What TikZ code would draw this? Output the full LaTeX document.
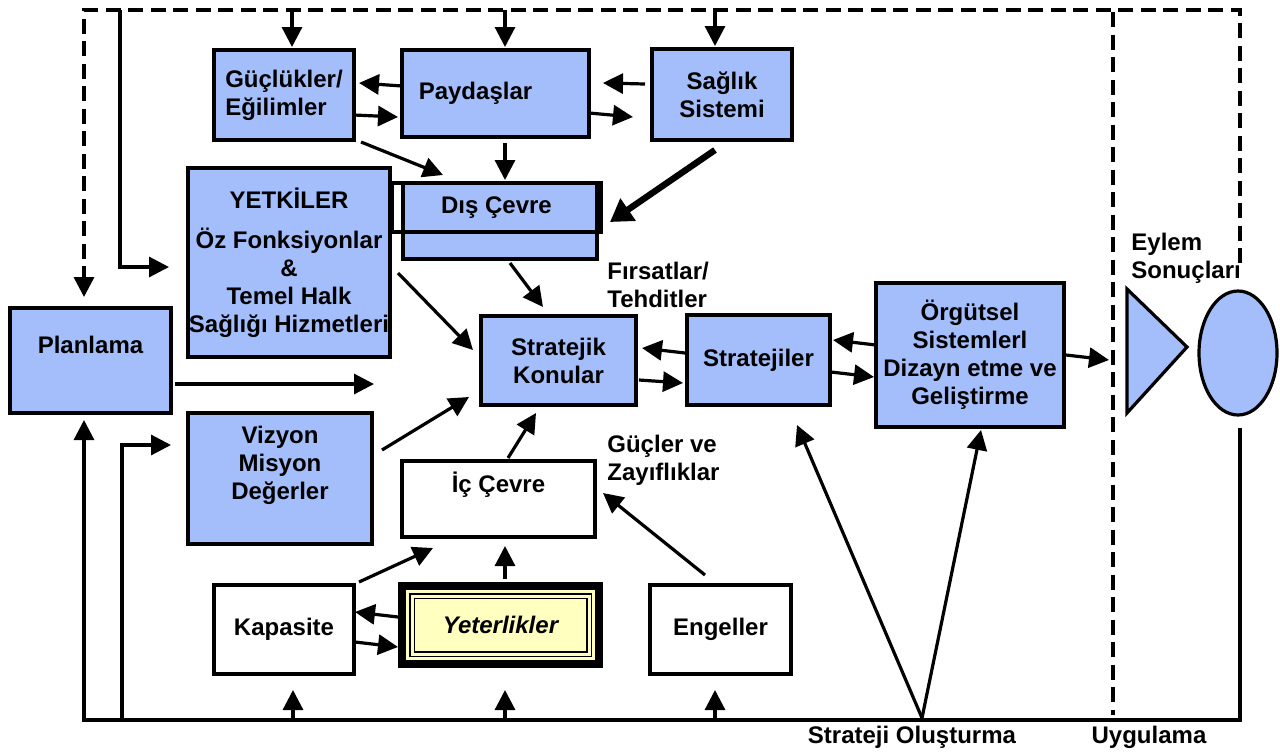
\documentclass[tikz,border=0pt]{standalone}
\usepackage{fontspec}
\setmainfont{Liberation Sans}
\usepackage{xcolor}
\usetikzlibrary{arrows.meta, positioning}
\definecolor{mavi}{RGB}{163,190,250}
\definecolor{sari}{RGB}{255,255,192}

\begin{document}
\begin{tikzpicture}[x=0.5pt, y=-0.5pt,
		font=\bfseries\fontsize{12}{14}\selectfont,
		kutu/.style={draw, line width=1.6pt, fill=mavi, align=center, inner sep=0pt, outer sep=0pt},
		bkutu/.style={kutu, fill=white},
		ok/.style={line width=1.6pt, -{Triangle[length=10pt, width=10pt]}},
		kesik/.style={line width=1.7pt, dash pattern=on 7.5pt off 3.75pt},
		yazi/.style={inner sep=0pt, align=left, anchor=west}]
				\useasboundingbox (0,0) rectangle (1280,751);
				
				\coordinate (sagUst) at (1240,263);
				\coordinate (solUst) at (84,10);
				\coordinate (ortaUst) at (1113,12);
				\coordinate (ortaAlt) at (1113,715);
				\coordinate (ic1Ust) at (120,10);
				\coordinate (altSag) at (1240,428);
				\coordinate (altSol) at (84,720);
				\coordinate (ic2Alt) at (122,720);
				\coordinate (planOk) at (374,384);
				\coordinate (stratO) at (922,718);
				\coordinate (ucgen) at (1109,360);
				
				% kutular
				\node[kutu, minimum width=70pt, minimum height=45pt, align=left] (gug) at (284,95) {Güçlükler/\\Eğilimler};
				\node[kutu, minimum width=93.5pt, minimum height=43.5pt] (pay) at (495.5,93.5) {Paydaşlar\hspace*{20pt}};
				\node[kutu, minimum width=70pt, minimum height=45.5pt] (sag) at (722,94.5) {Sağlık\\Sistemi};
				\node[kutu, minimum width=101pt, minimum height=94.5pt] (yetk) at (289,262.5) {YETKİLER\\[6pt]Öz Fonksiyonlar\\\&\\Temel Halk\\Sağlığı Hizmetleri};
				\node[kutu, minimum width=97pt, minimum height=38pt] (dis) at (500,221) {};
				\node[draw, line width=1.6pt, inner sep=0pt, outer sep=0pt, minimum width=104.5pt, minimum height=24.5pt] (disF) at (496.5,207.5) {Dış Çevre};
				\node[kutu, minimum width=80.5pt, minimum height=52.5pt, label={[yshift=7.75pt]center:Planlama}] (plan) at (90.5,360.5) {};
				\node[kutu, minimum width=92pt, minimum height=65.5pt, label={[yshift=6.75pt, align=center]center:Vizyon\\Misyon\\Değerler}] (viz) at (280,478.5) {};
				\node[kutu, minimum width=77.5pt, minimum height=44.5pt] (sk) at (558.5,360.5) {Stratejik\\Konular};
				\node[kutu, minimum width=71.5pt, minimum height=45pt] (str) at (758.5,360) {Stratejiler};
				\node[kutu, minimum width=94pt, minimum height=72pt] (org) at (970,355) {Örgütsel\\Sistemlerl\\Dizayn etme ve\\Geliştirme};
				\node[bkutu, minimum width=96.5pt, minimum height=38pt, label={[yshift=7pt]center:İç Çevre}] (ic) at (498.5,499) {};
				\node[bkutu, minimum width=70pt, minimum height=44.5pt] (kap) at (284,629.5) {Kapasite};
				\node[bkutu, minimum width=70.5pt, minimum height=44.5pt] (eng) at (720.5,629.5) {Engeller};
				\node[draw, line width=4pt, fill=sari, inner sep=0pt, outer sep=0pt, minimum width=98.5pt, minimum height=39pt, font=\bfseries\itshape\fontsize{12}{14}\selectfont] (yetr) at (500.5,625) {Yeterlikler};
				\draw[line width=0.6pt, double=sari, double distance=1.5pt] ([shift={(10,10)}]yetr.north west) rectangle ([shift={(-10,-10)}]yetr.south east);
				
				\filldraw[fill=mavi, line width=1.6pt] (1127,289) -- (1187,347) -- (1127,413) -- cycle;
				\filldraw[fill=mavi, line width=1.6pt] (1238,353) ellipse [x radius=19.5pt, y radius=31pt];
				
				% yazilar
				\node[yazi] (firsat) at (607,285) {Fırsatlar/\\Tehditler};
				\node[yazi] (gucler) at (607,460) {Güçler ve\\Zayıflıklar};
				\node[yazi] (eylem) at (1131,258) {Eylem\\Sonuçları};
				\node (olus) at (912,737) {Strateji Oluşturma};
				\node (uyg) at (1149,737) {Uygulama};
				
				% kesik cizgiler
				\draw[kesik, -{Triangle[length=10pt, width=10pt]}] (sagUst) |- (solUst) -- ([shift={(-6.5,-11)}]plan.north);
				\draw[kesik] (ortaUst) -- (ortaAlt);
				
				% cerceve
				\draw[ok] (ic1Ust) |- ([shift={(-19,4.5)}]yetk.west);
				\draw[ok] (altSag) |- (altSol) -- ([shift={(-6.5,7)}]plan.south);
				\draw[ok] (ic2Alt) |- ([shift={(-17,-33.5)}]viz.west);
				\draw[ok] ([shift={(8,-40)}]gug.north) -- ([shift={(8,-3)}]gug.north);
				\draw[ok] ([shift={(9.5,-40)}]pay.north) -- ([shift={(9.5,-3)}]pay.north);
				\draw[ok] ([shift={(-7,-39)}]sag.north) -- ([shift={(-7,-3)}]sag.north);
				\draw[ok] ([shift={(9,46)}]kap.south) -- ([shift={(9,16)}]kap.south);
				\draw[ok] ([shift={(4.5,56)}]yetr.south) -- ([shift={(4.5,26)}]yetr.south);
				\draw[ok] ([shift={(-5.5,46)}]eng.south) -- ([shift={(-5.5,16)}]eng.south);
				
				% baglantilar
				\draw[ok] ([yshift=3.75pt]pay.west) -- ([shift={(5,-12)}]gug.east);
				\draw[ok] ([yshift=-10pt]gug.east) -- ([shift={(-4,23.5)}]pay.west);
				\draw[ok] ([shift={(-7,-10.5)}]sag.west) -- ([shift={(14,-10.5)}]pay.east);
				\draw[ok] ([yshift=-9.75pt]pay.east) -- ([shift={(-19,22.5)}]sag.west);
				\draw[ok] ([shift={(7,2)}]gug.south east) -- ([shift={(51,-8)}]disF.north west);
				\draw[ok] ([shift={(9.5,6)}]pay.south) -- ([shift={(8.5,-3)}]disF.north);
				\draw[line width=3.2pt, -{Triangle[length=11pt, width=13pt]}] ([shift={(-7,10)}]sag.south) -- ([shift={(9,14.5)}]disF.east);
				\draw[ok] ([shift={(10,4)}]dis.south) -- ([shift={(-15.5,-9)}]sk.north);
				\draw[ok] ([shift={(8,10.5)}]yetk.east) -- ([shift={(-8,-10.5)}]sk.west);
				\draw[ok] ([shift={(4,23.5)}]plan.east) -- (planOk);
				\draw[ok] ([shift={(10,-28.5)}]viz.east) -- ([shift={(-12,-8)}]sk.south west);
				\draw[ok] ([shift={(9.5,-3)}]ic.north) -- ([shift={(-22.5,8)}]sk.south);
				\draw[ok] ([shift={(-2,-7)}]str.west) -- ([shift={(6,-12.5)}]sk.east);
				\draw[ok] ([shift={(3,19.5)}]sk.east) -- ([shift={(-4,23)}]str.west);
				\draw[ok] ([shift={(0,-10)}]org.west) -- ([shift={(3,-20)}]str.east);
				\draw[ok] ([shift={(1,12)}]str.east) -- ([shift={(-2,22)}]org.west);
				\draw[ok] ([xshift=1pt]org.east) -- (ucgen);
				\draw[ok] ([shift={(5,-3)}]kap.north east) -- ([shift={(31,11)}]ic.south west);
				\draw[ok] ([shift={(4.5,-7)}]yetr.north) -- ([shift={(6.5,9)}]ic.south);
				\draw[ok] ([shift={(-4,-8)}]yetr.west) -- ([shift={(1,-17.5)}]kap.east);
				\draw[ok] ([shift={(1,12.5)}]kap.east) -- ([shift={(-4,22)}]yetr.west);
				\draw[ok] ([shift={(-15.5,-10)}]eng.north) -- ([shift={(8,-6)}]ic.east);
				\draw[ok] (stratO) -- ([shift={(38.5,20)}]str.south);
				\draw[ok] (stratO) -- ([shift={(11,3)}]org.south);
			\end{tikzpicture}
\end{document}
